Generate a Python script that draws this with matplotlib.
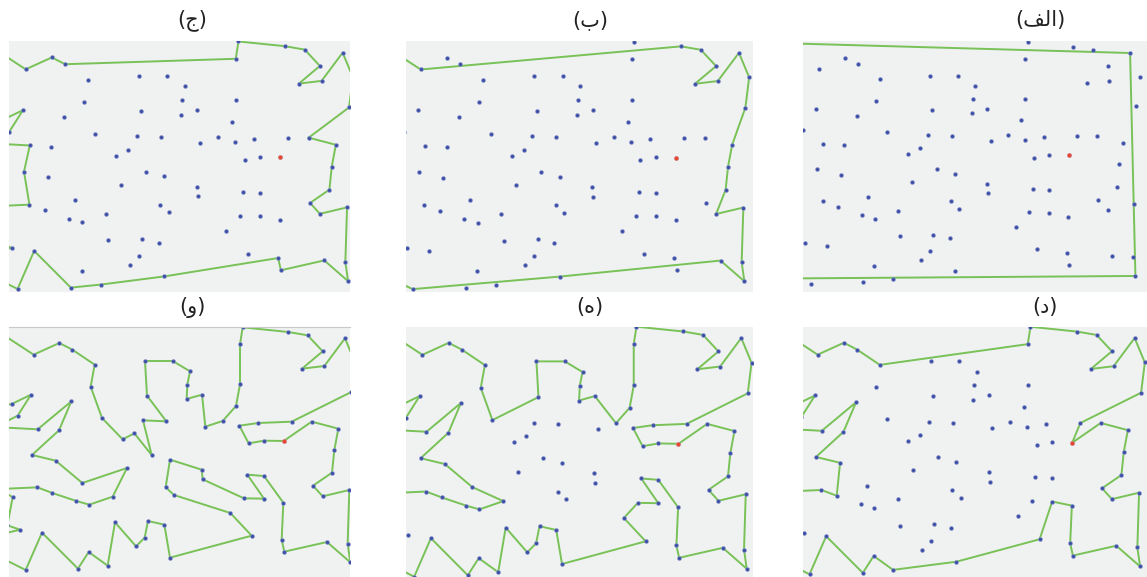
import numpy as np
import matplotlib
matplotlib.use("Agg")
import matplotlib.pyplot as plt

W, H = 1147, 577

# city coordinates, listed in the order of the finished tour (panel و)
PTS_X = [851, 935, 1015, 1003, 996, 939, 968, 1048, 1043, 1051,
         981, 853, 845, 850, 792, 742, 792, 732, 608, 605,
         510, 497, 522, 691, 755, 510, 493, 444, 434, 408,
         345, 323, 266, 234, 126, 77, -65, -91, 60, 22,
         38, 0, 112, 157, 229, 268, 338, 381, 247, 167,
         96, 177, 214, 113, -14, 53, 93, 35, -20, -20,
         101, 178, 217, 284, 272, 306, 368, 403, 455, 429,
         499, 441, 435, 518, 570, 562, 560, 606, 616, 668,
         708, 720, 720, 728, 865, 923, 968, 906, 973, 1035,
         1065, 1054, 875, 775, 718, 746, 792]
PTS_Y = [363, 305, 326, 390, 458, 497, 529, 510, 671, 727,
         666, 695, 659, 548, 468, 464, 536, 535, 478, 449,
         419, 502, 525, 579, 647, 713, 614, 603, 653, 679,
         607, 737, 696, 746, 638, 750, 735, 666, 629, 616,
         532, 507, 502, 519, 543, 554, 530, 444, 489, 422,
         405, 331, 244, 328, 321, 287, 224, 252, 262, 25,
         104, 69, 89, 134, 200, 294, 358, 340, 405, 301,
         304, 227, 123, 123, 154, 194, 237, 224, 320, 303,
         258, 193, 73, 22, 36, 46, 94, 146, 138, 55,
         127, 216, 305, 309, 317, 370, 362]
START = 0  # red city

# partial tours (indices into the city lists)
TOUR_ALEF = [9, 36, 59, 89]
TOUR_BA = [2, 3, 4, 6, 7, 8, 9, 10, 25, 35, 37, 59, 60,
           84, 85, 86, 87, 88, 89, 90, 91]
TOUR_JIM = [1, 2, 3, 4, 5, 6, 7, 8, 9, 10, 11, 12, 25, 31, 33, 34, 35,
            37, 38, 39, 40, 41, 42, 50, 53, 54, 55, 56, 57, 58, 59, 60,
            61, 62, 82, 83, 84, 85, 86, 87, 88, 89, 90, 91]
TOUR_DAL = [0, 1, 2, 3, 4, 5, 6, 7, 8, 9, 10, 11, 12, 13, 16, 24, 25,
            31, 32, 33, 34, 35, 37, 41, 42, 43, 49, 50, 51, 52, 53, 54,
            55, 56, 57, 58, 59, 60, 61, 62, 63, 82, 83, 84, 85, 86, 87,
            88, 89, 90, 91, 92]
TOUR_HE = [0, 1, 2, 3, 4, 5, 6, 7, 8, 9, 10, 11, 12, 13, 14, 15, 16, 17,
           23, 24, 25, 26, 27, 28, 29, 30, 31, 32, 33, 34, 35, 37, 41,
           42, 43, 44, 45, 46, 48, 49, 50, 51, 52, 53, 54, 55, 56, 57,
           58, 59, 60, 61, 62, 63, 64, 65, 71, 72, 73, 74, 75, 76, 77,
           79, 80, 81, 82, 83, 84, 85, 86, 87, 88, 89, 90, 91, 92, 93,
           94, 95, 96]
TOUR_WAW = [i for i in range(len(PTS_X)) if i != 36]

TITLES = ["(\ufed2\ufedf\ufe8d)", "(ب)", "(ج)", "(د)", "(ه)", "(و)"]

BG, GREEN, BLUE, RED = "#f0f1f1", "#78c257", "#3d4fa6", "#e8432c"

px = np.array(PTS_X, dtype=float)
py = np.array(PTS_Y, dtype=float)

# panel: tour, pixel box (x0, y0, x1, y1), visible x range, visible y range, title pos
PANELS = [
    (TOUR_ALEF, (803, 41, 1147, 292), (52.7, 1085.8), (18.8, 775.3), (1040, 20)),
    (TOUR_BA,   (406, 41, 753, 292),  (57.9, 1076.3), (20.2, 758.4), (590, 20)),
    (TOUR_JIM,  (9, 41, 350, 292),    (51.8, 1056.7), (20.7, 758.9), (192, 20)),
    (TOUR_DAL,  (803, 327, 1147, 577), (57.7, 1071.4), (22.6, 758.0), (1045, 307)),
    (TOUR_HE,   (406, 327, 753, 577),  (53.0, 1069.3), (22.9, 750.9), (590, 307)),
    (TOUR_WAW,  (9, 327, 350, 577),    (27.0, 1050.0), (21.0, 771.0), (192, 307)),
]

fig = plt.figure(figsize=(W / 100, H / 100), dpi=100, facecolor="white")

for title, (tour, box, xr, yr, tpos) in zip(TITLES, PANELS):
    x0, y0, x1, y1 = box
    ax = fig.add_axes([x0 / W, 1 - y1 / H, (x1 - x0) / W, (y1 - y0) / H])
    ax.set_facecolor(BG)
    ax.set_xlim(*xr)
    ax.set_ylim(yr[1], yr[0])
    ax.set_xticks([]); ax.set_yticks([])
    for s in ax.spines.values():
        s.set_visible(False)

    loop = tour + tour[:1]
    ax.plot(px[loop], py[loop], color=GREEN, lw=1.4, zorder=1,
            solid_joinstyle="round")
    ax.scatter(px, py, s=8, color=BLUE, edgecolors="#8f9ad0",
               linewidths=0.4, zorder=2)
    ax.scatter(px[START], py[START], s=8, color=RED, edgecolors="#f08a7a",
               linewidths=0.4, zorder=3)

    fig.text(tpos[0] / W, 1 - tpos[1] / H, title, ha="center", va="center",
             fontsize=15, color="#222222", family="DejaVu Sans")

# the last panel has a thin grey border on top
ax.spines["top"].set_visible(True)
ax.spines["top"].set_color("#c8c8c8")

fig.savefig("out.png", dpi=100, facecolor="white")
